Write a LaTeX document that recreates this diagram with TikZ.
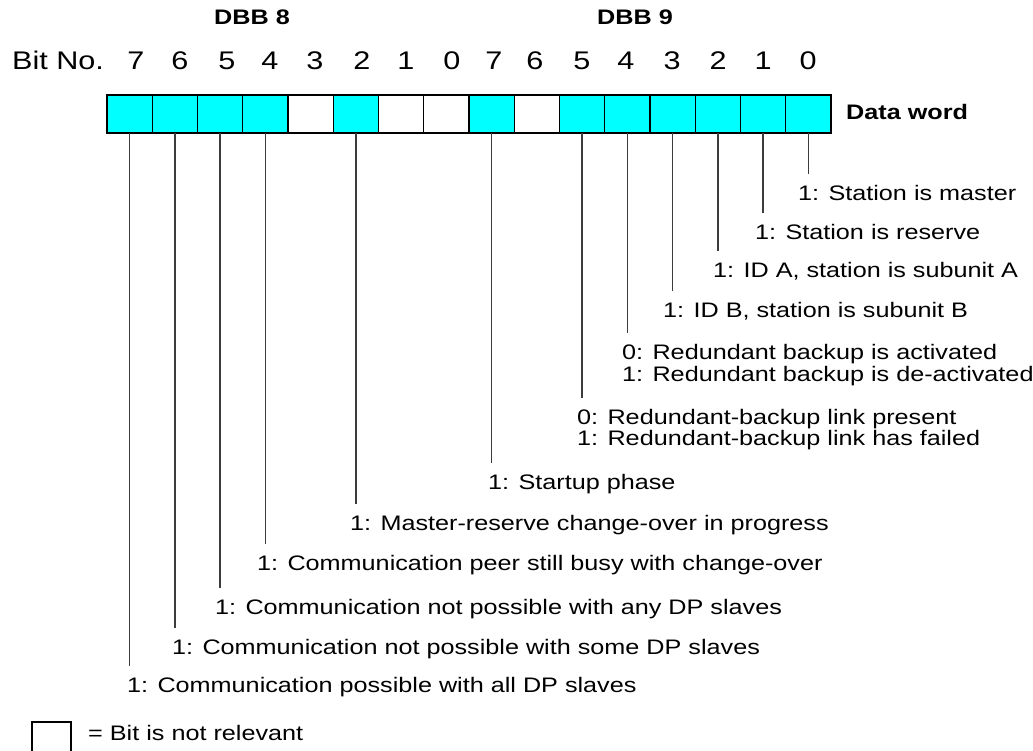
\documentclass[tikz,border=0pt]{standalone}
\usepackage{fontspec}
\setmainfont{Liberation Sans}[FakeStretch=1.2]
\usetikzlibrary{calc}
\definecolor{cyanbit}{RGB}{0,255,255}
\definecolor{linegray}{RGB}{60,60,60}
\tikzset{
  cellbox/.style={draw=black, line width=1.2pt, minimum width=45.25pt, minimum height=38pt, inner sep=0pt, outer sep=0pt},
  setbit/.style={cellbox, fill=cyanbit},
  nobit/.style={cellbox, fill=white},
  lbl/.style={anchor=base west, inner sep=0pt, font=\fontsize{21}{25}\selectfont, text height=15pt, text depth=4pt},
  bitno/.style={anchor=base, inner sep=0pt, font=\fontsize{25.5}{30}\selectfont},
  hdr/.style={anchor=base, inner sep=0pt, font=\bfseries\fontsize{21}{25}\selectfont},
  conn/.style={draw=linegray, line width=1.3pt},
}
\begin{document}
\begin{tikzpicture}[x=1pt, y=-1pt]
\useasboundingbox (0,0) rectangle (1033,751);
% headers
\node[hdr] (dbb8) at (252,25) {DBB 8};
\node[hdr] (dbb9) at (635,25) {DBB 9};
\node[bitno, anchor=base west] (bitlabel) at (12,70) {Bit No.};
\foreach \n/\x/\d in {0/136/7,1/180/6,2/227/5,3/270/4,4/315/3,5/362/2,6/406/1,7/452/0,
                      8/494/7,9/535/6,10/582/5,11/626/4,12/672/3,13/718/2,14/763/1,15/808/0}
  \node[bitno] (b\n) at (\x,70) {\d};
% cells
\foreach \i/\s in {0/setbit,1/setbit,2/setbit,3/setbit,4/nobit,5/setbit,6/nobit,7/nobit,
                   8/setbit,9/nobit,10/setbit,11/setbit,12/setbit,13/setbit,14/setbit,15/setbit}
  \node[\s] (c\i) at ({107+45.25*(\i+0.5)},114) {};
\node[hdr, anchor=base west] (dw) at (846,119.5) {Data word};
% labels
\node[lbl] (l15) at (798,200.5) {1: Station is master};
\node[lbl] (l14) at (755,239.5) {1: Station is reserve};
\node[lbl] (l13) at (713,277.5) {1: ID A, station is subunit A};
\node[lbl] (l12) at (663,317.5) {1: ID B, station is subunit B};
\node[lbl] (l11) at (622,359.5) {0: Redundant backup is activated};
\node[lbl] (l11b) at (622,381.5) {1: Redundant backup is de-activated};
\node[lbl] (l10) at (577,424.5) {0: Redundant-backup link present};
\node[lbl] (l10b) at (577,445.5) {1: Redundant-backup link has failed};
\node[lbl] (l8) at (488,489.5) {1: Startup phase};
\node[lbl] (l5) at (350,530.5) {1: Master-reserve change-over in progress};
\node[lbl] (l3) at (257,570.5) {1: Communication peer still busy with change-over};
\node[lbl] (l2) at (215,614.5) {1: Communication not possible with any DP slaves};
\node[lbl] (l1) at (172,654.5) {1: Communication not possible with some DP slaves};
\node[lbl] (l0) at (127,692.5) {1: Communication possible with all DP slaves};
% connectors
\foreach \i in {0,1,2,3,5,8,10,11,12,13,14,15}
  \draw[conn] (c\i.south) -- ($(c\i.south |- l\i.north)+(0,-11.5)$);
% legend
\draw[line width=1.2pt] (32,752) -- (32,722) -- (71,722) -- (71,752);
\node[lbl] (legend) at (88,740.5) {= Bit is not relevant};
\end{tikzpicture}
\end{document}
